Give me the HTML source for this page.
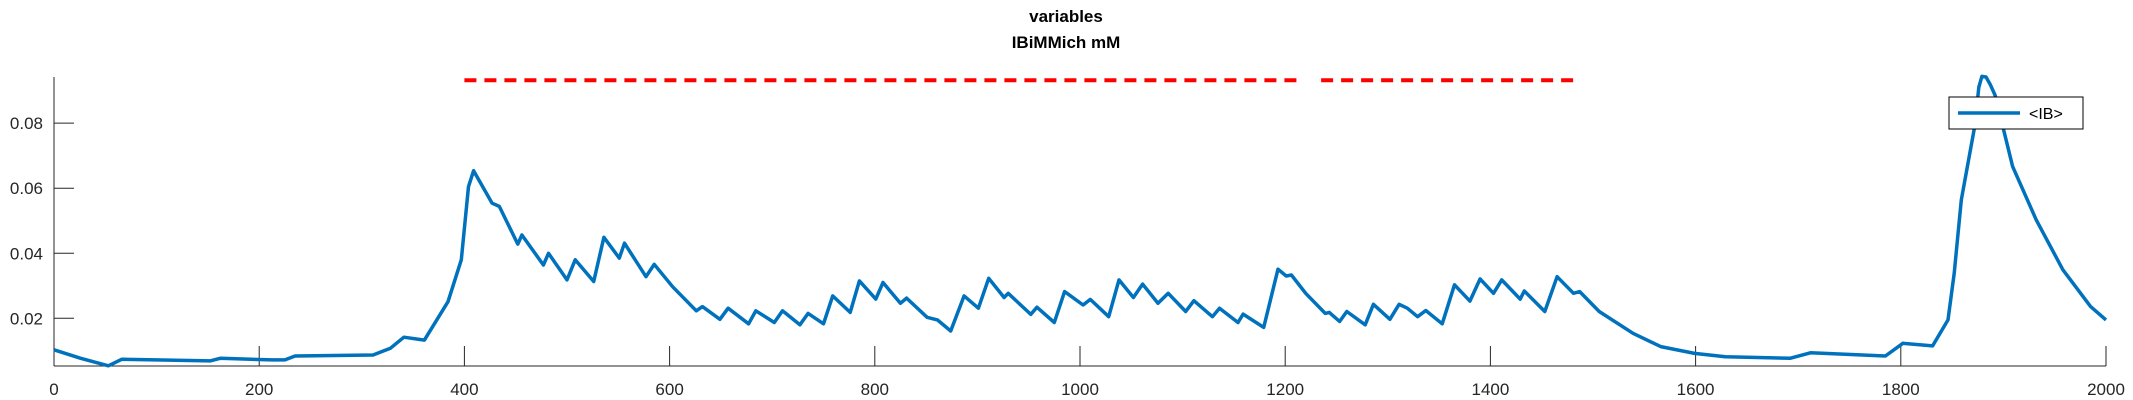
<!DOCTYPE html>
<html><head><meta charset="utf-8"><style>
html,body{margin:0;padding:0;background:#fff;width:2133px;height:400px;overflow:hidden}
svg text{font-family:"Liberation Sans",sans-serif}
</style></head><body>
<svg id="chart" width="2133" height="400" xmlns="http://www.w3.org/2000/svg">
<text x="1066" y="22" text-anchor="middle" font-size="17" font-weight="bold">variables</text>
<text x="1066" y="48" text-anchor="middle" font-size="17" font-weight="bold">IBiMMich mM</text>
<g id="axes"></g>
<g id="marks"></g>
<g>
<rect x="1949" y="97" width="134" height="32" fill="#fff" stroke="#000" stroke-width="1"/>
<line x1="1958" y1="113" x2="2020" y2="113" stroke="#0072BD" stroke-width="3.5"/>
<text x="2029" y="119" font-size="16">&lt;IB&gt;</text>
</g>
</svg>
<script>
const xs=[0,26,53,66,99,152,162,212,225,235,311,328,341,361,384,397,404,409,427,434,452,456,477,482,500,508,526,536,551,556,577,585,603,626,632,649,657,677,684,702,710,727,735,750,759,776,785,801,808,825,831,851,861,874,887,901,911,926,930,952,958,975,985,1003,1010,1028,1038,1052,1061,1076,1086,1103,1111,1129,1136,1154,1159,1179,1193,1201,1206,1220,1239,1243,1253,1260,1278,1286,1302,1311,1319,1329,1337,1353,1365,1380,1390,1403,1411,1429,1433,1453,1465,1481,1487,1506,1539,1566,1599,1629,1692,1712,1785,1802,1831,1846,1852,1859,1872,1876,1879,1883,1887,1892,1909,1932,1958,1985,2000];
const ys=[0.0103,0.0077,0.0054,0.0074,0.0072,0.0069,0.0077,0.0072,0.0072,0.0084,0.0087,0.0108,0.0142,0.0133,0.0251,0.038,0.0605,0.0654,0.0554,0.0544,0.0428,0.0456,0.0364,0.04,0.0318,0.038,0.0313,0.0449,0.0385,0.0431,0.0328,0.0366,0.0297,0.0223,0.0236,0.0197,0.0231,0.0183,0.0223,0.0187,0.0223,0.018,0.0215,0.0183,0.0269,0.0218,0.0315,0.0259,0.031,0.0246,0.0262,0.0203,0.0195,0.0161,0.0269,0.0231,0.0323,0.0264,0.0277,0.0212,0.0234,0.0187,0.0282,0.0241,0.0258,0.0205,0.0318,0.0264,0.0305,0.0246,0.0277,0.0221,0.0254,0.0205,0.0231,0.0187,0.0213,0.0172,0.0351,0.033,0.0333,0.0277,0.0215,0.0218,0.019,0.0221,0.018,0.0243,0.0197,0.0243,0.0231,0.0205,0.0224,0.0183,0.0303,0.0253,0.0321,0.0277,0.0318,0.0259,0.0284,0.0221,0.0328,0.0277,0.0282,0.0221,0.0154,0.0113,0.0092,0.0082,0.0077,0.0094,0.0084,0.0123,0.0115,0.0195,0.0338,0.0564,0.079,0.091,0.0944,0.0942,0.092,0.0885,0.0667,0.0503,0.0349,0.0236,0.0195];
const xTicks=[0,200,400,600,800,1000,1200,1400,1600,1800,2000];
const yTicks=[0.02,0.04,0.06,0.08];
const yTickLabels=["0.02","0.04","0.06","0.08"];
const thresholdY=[0.0932];
const thresholdSegments=[[400,1212],[1235,1487]];
const X0=54,X1=2106,Y0=366,Y1=77,VMIN=0.00533,VMAX=0.0942;
function sx(v){return X0+(v-0)/(2000-0)*(X1-X0);}
function sy(v){return Y0-(v-VMIN)/(VMAX-VMIN)*(Y0-Y1);}
const NS="http://www.w3.org/2000/svg";
function mk(t,a){const e=document.createElementNS(NS,t);for(const k in a)e.setAttribute(k,a[k]);return e;}
const axes=document.getElementById('axes'),marks=document.getElementById('marks');
let l=mk('line',{x1:X0,y1:Y1,x2:X0,y2:Y0,stroke:'#262626','stroke-width':1});


axes.appendChild(l);
l=mk('line',{x1:X0,y1:Y0,x2:X1,y2:Y0,stroke:'#262626','stroke-width':1});


axes.appendChild(l);
xTicks.forEach(t=>{
 const tk=mk('line',{x1:sx(t),y1:Y0,x2:sx(t),y2:Y0-20,stroke:'#262626','stroke-width':1});
 
 
 axes.appendChild(tk);
 const tx=mk('text',{x:sx(t),y:395,'text-anchor':'middle','font-size':17,fill:'#262626'});
 tx.textContent=String(t);
 
 
 axes.appendChild(tx);
});
yTicks.forEach((t,i)=>{
 const tk=mk('line',{x1:X0,y1:sy(t),x2:X0+20,y2:sy(t),stroke:'#262626','stroke-width':1});
 
 
 axes.appendChild(tk);
 const tx=mk('text',{x:43,y:sy(t)+6,'text-anchor':'end','font-size':17,fill:'#262626'});
 tx.textContent=yTickLabels[i];
 
 
 axes.appendChild(tx);
});
thresholdSegments.forEach(s=>{
 const d=mk('line',{x1:sx(s[0]),y1:sy(thresholdY[0]),x2:sx(s[1]),y2:sy(thresholdY[0]),stroke:'#ff0000','stroke-width':4,'stroke-dasharray':'12 8'});
 
 
 marks.appendChild(d);
});
const pts=xs.map((x,i)=>sx(x).toFixed(1)+','+sy(ys[i]).toFixed(1)).join(' ');
const pl=mk('polyline',{points:pts,fill:'none',stroke:'#0072BD','stroke-width':3.5,'stroke-linejoin':'round'});


marks.appendChild(pl);
</script>
</body></html>
